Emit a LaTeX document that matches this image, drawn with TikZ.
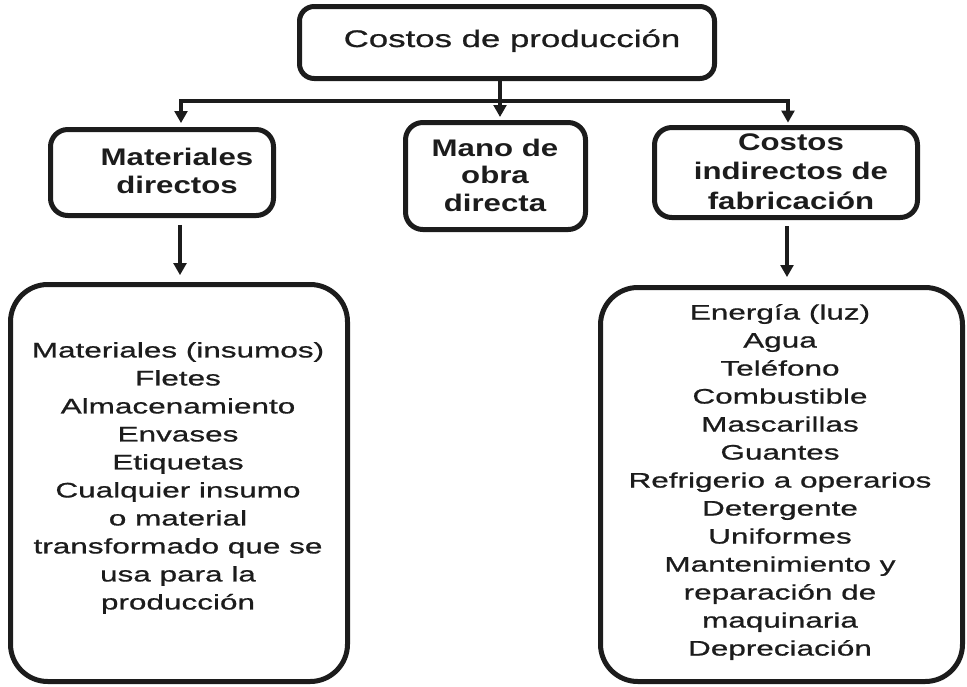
\documentclass[tikz,border=0pt]{standalone}
\usepackage{fontspec}
\usetikzlibrary{arrows.meta}
\newfontfamily\topf[FakeStretch=1.45,FakeBold=0.8]{Liberation Sans}
\newfontfamily\midf[FakeStretch=1.3]{Liberation Sans}
\newfontfamily\listf[FakeStretch=1.5,FakeBold=0.8]{Liberation Sans}
\newlength\px \setlength\px{0.75pt}
\definecolor{ink}{HTML}{1C1C1C}
\tikzset{
  box/.style={draw=ink, line width=3.75pt, rectangle, inner sep=0pt, outer sep=0pt},
  topbox/.style={box, rounded corners=11pt},
  midbox/.style={box, rounded corners=13pt},
  bigbox/.style={box, rounded corners=28pt},
  toptext/.style={font={\topf\fontsize{18pt}{22pt}\selectfont}, text=ink, inner sep=0pt},
  midtext/.style={font={\midf\bfseries\fontsize{18pt}{20.5pt}\selectfont}, text=ink, inner sep=0pt, align=center},
  listtext/.style={font={\listf\fontsize{15.75pt}{21pt}\selectfont}, text=ink, inner sep=0pt, align=center},
  conn/.style={draw=ink, line width=3pt},
  arr/.style={conn, -{Triangle[length=9pt,width=9.5pt]}},
}
\begin{document}
\begin{tikzpicture}[x=0.75pt,y=-0.75pt]
\useasboundingbox (0,0) rectangle (967,686);
% boxes
\node[topbox, minimum width=415\px, minimum height=72\px] (top) at (507,42.5) {};
\node[midbox, minimum width=223\px, minimum height=86\px] (md) at (162,172.5) {};
\node[midbox, minimum width=180\px, minimum height=107\px] (mo) at (495.5,176) {};
\node[midbox, minimum width=263\px, minimum height=90\px] (ci) at (786,172.5) {};
\node[bigbox, minimum width=337\px, minimum height=397\px] (L) at (179,483) {};
\node[bigbox, minimum width=362\px, minimum height=394\px] (R) at (781.5,484.5) {};
% texts
\node[toptext, anchor=base] (ttop) at (512,47) {Costos de producción};
\node[midtext] (tmd) at (177,171) {Materiales\\directos};
\node[midtext, font={\midf\bfseries\fontsize{18pt}{20.6pt}\selectfont}] (tmo) at (495,175) {Mano de\\obra\\directa};
\node[midtext, font={\midf\bfseries\fontsize{18pt}{22pt}\selectfont}] (tci) at (791,171.5) {Costos\\indirectos de\\fabricación};
\node[listtext] (tL) at (178,478) {Materiales (insumos)\\Fletes\\Almacenamiento\\Envases\\Etiquetas\\Cualquier insumo\\o material\\transformado que se\\usa para la\\producción};
\node[listtext] (tR) at (780,482) {Energía (luz)\\Agua\\Teléfono\\Combustible\\Mascarillas\\Guantes\\Refrigerio a operarios\\Detergente\\Uniformes\\Mantenimiento y\\reparación de\\maquinaria\\Depreciación};
% connectors
\coordinate (jm) at (500,101);
\coordinate (jl) at (181,101);
\coordinate (jr) at (788,101);
\coordinate (xl) at (180,0);
\coordinate (xr) at (787,0);
\draw[arr, shorten >=4.1pt] (top.south -| jm) -- (jm |- mo.north);
\draw[arr, shorten >=4.8pt] (jm) -- (jl) -- (jl |- md.north);
\draw[arr, shorten >=3.6pt] (jm) -- (jr) -- (jr |- ci.north);
\draw[arr, shorten <=7pt, shorten >=7pt] (md.south -| xl) -- (L.north -| xl);
\draw[arr, shorten <=6.4pt, shorten >=7.8pt] (ci.south -| xr) -- (R.north -| xr);
\end{tikzpicture}
\end{document}
